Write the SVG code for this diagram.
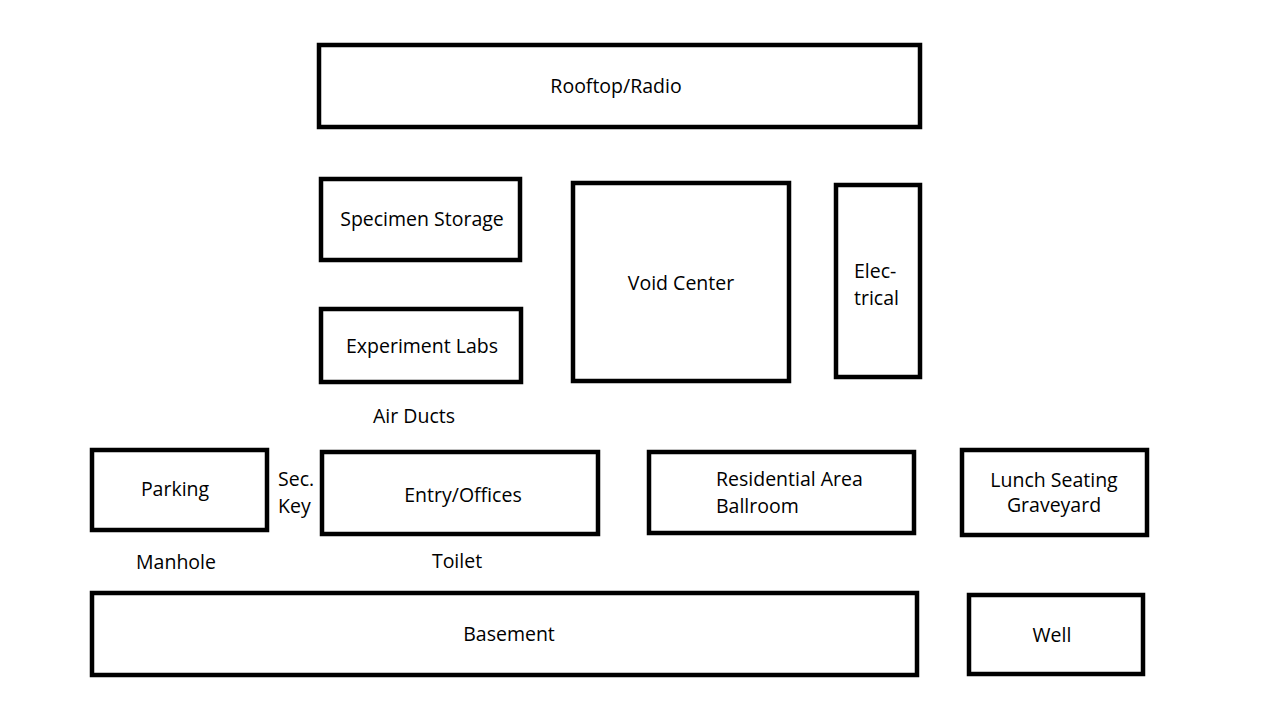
<svg xmlns="http://www.w3.org/2000/svg" width="1280" height="720" viewBox="0 0 1280 720">
<style>
.box{fill:#fff;stroke:#000;stroke-width:4.5}
text{font-family:"Open Sans","Noto Sans",sans-serif;font-size:19.5px;fill:#000}
.c{text-anchor:middle}
</style>
<rect width="1280" height="720" fill="#fff"/>
<g id="rooftop"><rect class="box" x="319" y="45" width="601" height="82"/><text class="c" x="616" y="93">Rooftop/Radio</text></g>
<g id="specimen"><rect class="box" x="321" y="179" width="199" height="81"/><text class="c" x="422" y="226">Specimen Storage</text></g>
<g id="labs"><rect class="box" x="321" y="309" width="200" height="73"/><text class="c" x="422" y="353">Experiment Labs</text></g>
<g id="void"><rect class="box" x="573" y="183" width="216" height="198"/><text class="c" x="681" y="290">Void Center</text></g>
<g id="electrical"><rect class="box" x="836" y="185" width="84" height="192"/><text x="854" y="278">Elec-</text><text x="854" y="305">trical</text></g>
<g id="airducts"><text class="c" x="414" y="423">Air Ducts</text></g>
<g id="parking"><rect class="box" x="92" y="450" width="175" height="80"/><text class="c" x="175" y="496">Parking</text></g>
<g id="seckey"><text x="278" y="486">Sec.</text><text x="278" y="513">Key</text></g>
<g id="entry"><rect class="box" x="322" y="452" width="276" height="82"/><text class="c" x="463" y="502">Entry/Offices</text></g>
<g id="residential"><rect class="box" x="649" y="452" width="265" height="81"/><text x="716" y="486">Residential Area</text><text x="716" y="513">Ballroom</text></g>
<g id="lunch"><rect class="box" x="962" y="450" width="185" height="85"/><text class="c" x="1054" y="487">Lunch Seating</text><text class="c" x="1054" y="512">Graveyard</text></g>
<g id="manhole"><text class="c" x="176" y="569">Manhole</text></g>
<g id="toilet"><text class="c" x="457" y="568">Toilet</text></g>
<g id="basement"><rect class="box" x="92" y="593" width="825" height="82"/><text class="c" x="509" y="641">Basement</text></g>
<g id="well"><rect class="box" x="969" y="595" width="174" height="79"/><text class="c" x="1052" y="642">Well</text></g>
<g id="connectors"></g>
</svg>
